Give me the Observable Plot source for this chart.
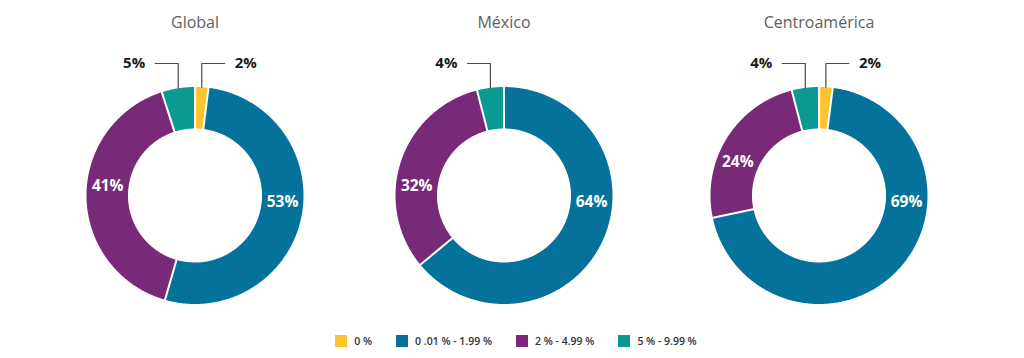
<!DOCTYPE html>
<html><head><meta charset="utf-8">
<script src="https://cdn.jsdelivr.net/npm/d3@7"></script>
<script src="https://cdn.jsdelivr.net/npm/@observablehq/plot@0.6"></script>
<style>
body{margin:0;background:#fff;font-family:"Open Sans",sans-serif}
#legend{display:flex;justify-content:center;height:33px;box-sizing:border-box;padding-top:10px;padding-left:32px;font-size:10.5px;font-weight:600;color:#333}
#legend .item{display:flex;align-items:center;margin-right:24px;height:12px}
#legend .sw{width:12px;height:12px;margin-right:7px}
</style></head>
<body><div id="chart"></div><div id="legend"></div>
<script>
// ---- data ----
const regions = ["Global", "México", "Centroamérica"];
const categories = ["0 %", "0 .01 % - 1.99 %", "2 % - 4.99 %", "5 % - 9.99 %"];
const colors = ["#fcc52e", "#05729b", "#782a78", "#0a9a92"];
const globalValues = [2, 53, 41, 5];
const mexicoValues = [0, 64, 32, 4];
const centroValues = [2, 69, 24, 4];
const seriesValues = [globalValues, mexicoValues, centroValues];

// ---- layout ----
const W = 1024, H = 325;
const centersX = [194.5, 503.5, 818.5], cy = 195;
const R = 108.5, r0 = 67;
const deg = Math.PI / 180;
const pt = (cx, rad, a) => [cx + rad * Math.sin(a), cy - rad * Math.cos(a)];

const polys = [], seps = [], inner = [], leaders = [], outerR = [], outerL = [], titles = [];
regions.forEach((reg, i) => {
  const vals = seriesValues[i];
  const cx = centersX[i];
  const total = d3.sum(vals);
  titles.push({x: cx, y: 22, text: reg});
  let acc = 0;
  vals.forEach((v, j) => {
    const a0 = acc / total * 2 * Math.PI;
    acc += v;
    const a1 = acc / total * 2 * Math.PI;
    if (v <= 0) return;
    const key = reg + "|" + categories[j];
    const n = Math.max(2, Math.ceil((a1 - a0) / (0.5 * deg)));
    for (let k = 0; k <= n; k++) {
      const a = a0 + (a1 - a0) * k / n;
      const [x, y] = pt(cx, R, a);
      polys.push({key, cat: categories[j], x, y});
    }
    for (let k = n; k >= 0; k--) {
      const a = a0 + (a1 - a0) * k / n;
      const [x, y] = pt(cx, r0, a);
      polys.push({key, cat: categories[j], x, y});
    }
    const [ix, iy] = pt(cx, r0 - 1, a0), [ox, oy] = pt(cx, R + 1, a0);
    seps.push({x1: ix, y1: iy, x2: ox, y2: oy});
    const label = v + "%";
    const mid = (a0 + a1) / 2;
    if (v >= 10) {
      // place label near the horizontal within the slice, kept clear of the slice start
      const target = mid < Math.PI ? 94 * deg : 276 * deg;
      const a = Math.min(Math.max(target, a0 + 34 * deg), a1 - 8 * deg);
      const [x, y] = pt(cx, (R + r0) / 2, a);
      inner.push({x, y, text: label});
    } else {
      const [sx, sy] = pt(cx, R, mid);
      const dir = Math.sin(mid) >= 0 ? 1 : -1;
      const ly = cy - 132;
      leaders.push({key, x: sx, y: sy}, {key, x: sx, y: ly}, {key, x: sx + dir * 23, y: ly});
      (dir > 0 ? outerR : outerL).push({x: sx + dir * 33, y: ly, text: label});
    }
  });
});

const chart = Plot.plot({
  width: W, height: H,
  margin: 0,
  x: {domain: [0, W], range: [0, W], axis: null},
  y: {domain: [0, H], range: [0, H], axis: null},
  color: {domain: categories, range: colors},
  style: {fontFamily: "'Open Sans', sans-serif", background: "#fff"},
  marks: [
    Plot.line(polys, {x: "x", y: "y", z: "key", fill: "cat", stroke: "none", curve: "linear"}),
    Plot.link(seps, {x1: "x1", y1: "y1", x2: "x2", y2: "y2", stroke: "#fff", strokeWidth: 2}),
    Plot.line(leaders, {x: "x", y: "y", z: "key", stroke: "#4a4a4a", strokeWidth: 1.2, curve: "linear"}),
    Plot.text(inner, {x: "x", y: "y", text: "text", fill: "#fff", fontSize: 15.5, fontWeight: 700}),
    Plot.text(outerR, {x: "x", y: "y", text: "text", textAnchor: "start", fill: "#1a1a1a", fontSize: 15, fontWeight: 700}),
    Plot.text(outerL, {x: "x", y: "y", text: "text", textAnchor: "end", fill: "#1a1a1a", fontSize: 15, fontWeight: 700}),
    Plot.text(titles, {x: "x", y: "y", text: "text", fill: "#5e5e5e", fontSize: 16})
  ]
});
document.getElementById("chart").append(chart);

const legend = document.getElementById("legend");
categories.forEach((c, i) => {
  const it = document.createElement("div"); it.className = "item";
  const sw = document.createElement("div"); sw.className = "sw"; sw.style.background = colors[i];
  const tx = document.createElement("span"); tx.textContent = c;
  it.append(sw, tx); legend.append(it);
});
</script>
</body></html>
